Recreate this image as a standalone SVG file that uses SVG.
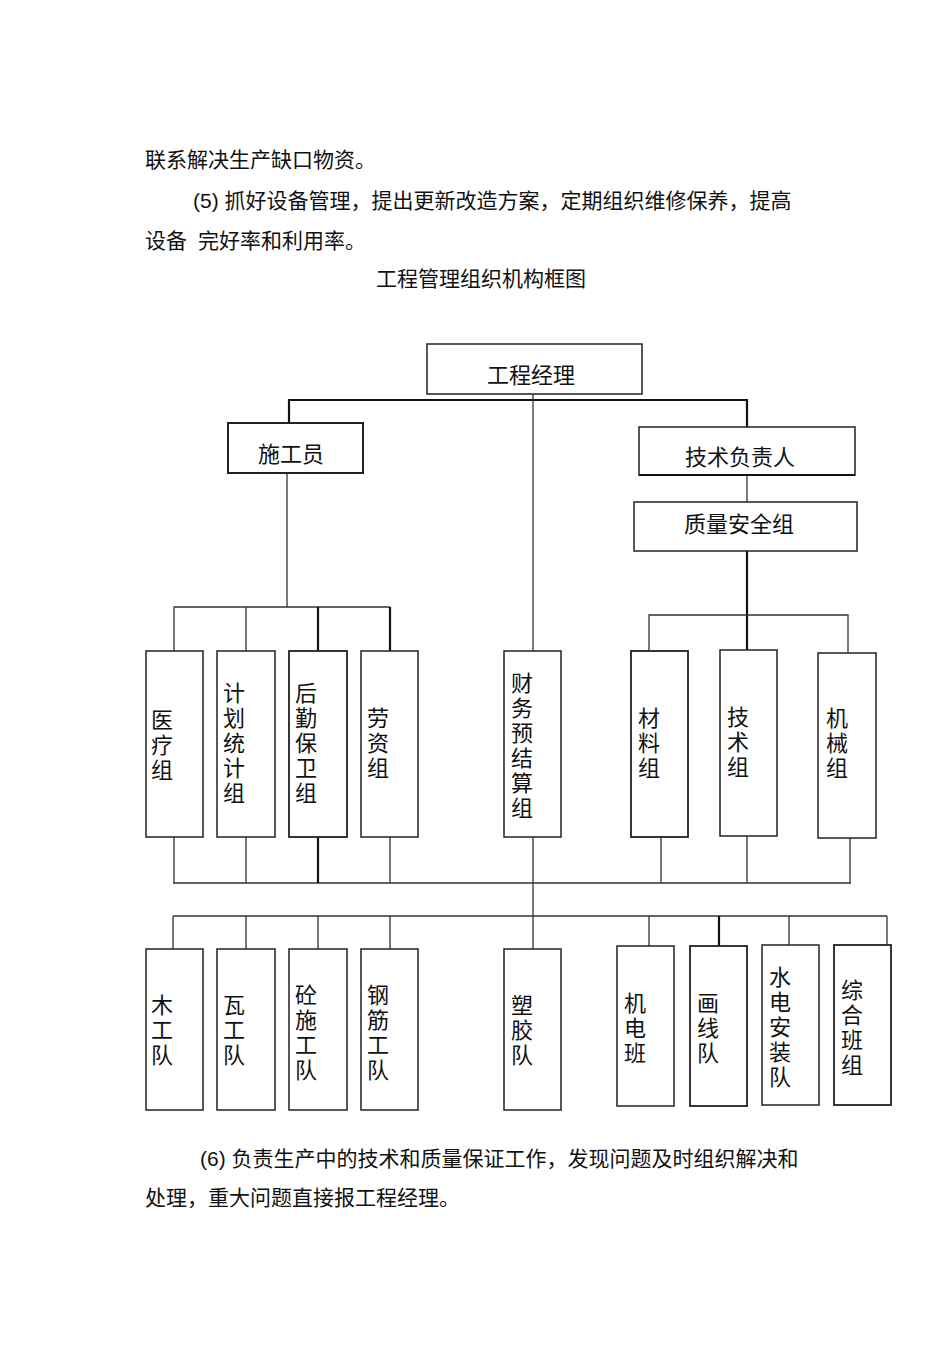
<svg xmlns="http://www.w3.org/2000/svg" width="950" height="1345" viewBox="0 0 950 1345">
<style>
text{font-family:"Liberation Sans","Noto Sans CJK SC",sans-serif;fill:#111}
.p{font-size:21px}
.b{fill:#fff;stroke:#222;stroke-width:1.5}
.l{font-size:22px;text-anchor:middle}
.c{stroke:#333;stroke-width:1.3;fill:none}
.t{stroke:#111;stroke-width:2.2;fill:none}
</style>
<rect width="950" height="1345" fill="#fff"/>
<text class="p" x="145" y="167">联系解决生产缺口物资。</text>
<text class="p" x="193" y="208">(5) 抓好设备管理，提出更新改造方案，定期组织维修保养，提高</text>
<text class="p" x="145" y="248">设备</text>
<text class="p" x="198" y="248">完好率和利用率。</text>
<text class="p" x="481" y="286" text-anchor="middle">工程管理组织机构框图</text>
<text class="p" x="200" y="1166">(6) 负责生产中的技术和质量保证工作，发现问题及时组织解决和</text>
<text class="p" x="145" y="1205">处理，重大问题直接报工程经理。</text>
<g id="connectors">
<path class="t" d="M289 423V400H747V427"/>
<path class="c" d="M533 394V651"/>
<path class="c" d="M287 473V607M174 651V607H390M246 607V651"/>
<path class="t" d="M318 607V651M390 607V651"/>
<path class="c" d="M747 475V502"/>
<path class="t" d="M747 551V650"/>
<path class="c" d="M649 651V615H848V653"/>
<path class="c" d="M173 883H851M174 837V883M246 837V883M390 837V883M533 837V916M661 837V883M747 836V883M850 838V883"/>
<path class="t" d="M318 837V883"/>
<path class="c" d="M173 916H887M173 916V949M246 916V949M318 916V949M390 916V949M533 916V949M649 916V946M789 916V945M887 916V945"/>
<path class="t" d="M719 916V946"/>
</g>
<g id="n-top"><rect class="b" x="427" y="344" width="215" height="50"/><text class="l" x="531" y="383">工程经理</text></g>
<g id="n-sgy"><rect class="b" x="228" y="423" width="135" height="50" style="stroke-width:2"/><text class="l" x="291" y="462">施工员</text></g>
<g id="n-jsfzr"><rect class="b" x="639" y="427" width="216" height="48"/><path class="t" d="M639 475H855"/><text class="l" x="740" y="465">技术负责人</text></g>
<g id="n-zlaq"><rect class="b" x="634" y="502" width="223" height="49"/><text class="l" x="739" y="532">质量安全组</text></g>
<g id="n-yl"><rect class="b" x="146" y="651" width="57" height="186"/><text class="l" x="162"><tspan x="162" y="728">医</tspan><tspan x="162" y="753">疗</tspan><tspan x="162" y="778">组</tspan></text></g>
<g id="n-jh"><rect class="b" x="217" y="651" width="58" height="186"/><text class="l" x="234"><tspan x="234" y="701">计</tspan><tspan x="234" y="726">划</tspan><tspan x="234" y="751">统</tspan><tspan x="234" y="776">计</tspan><tspan x="234" y="801">组</tspan></text></g>
<g id="n-hq"><rect class="b" x="289" y="651" width="58" height="186" style="stroke-width:1.8"/><text class="l" x="306"><tspan x="306" y="701">后</tspan><tspan x="306" y="726">勤</tspan><tspan x="306" y="751">保</tspan><tspan x="306" y="776">卫</tspan><tspan x="306" y="801">组</tspan></text></g>
<g id="n-lz"><rect class="b" x="361" y="651" width="57" height="186"/><text class="l" x="378"><tspan x="378" y="726">劳</tspan><tspan x="378" y="751">资</tspan><tspan x="378" y="776">组</tspan></text></g>
<g id="n-cw"><rect class="b" x="504" y="651" width="57" height="186"/><text class="l" x="522"><tspan x="522" y="691">财</tspan><tspan x="522" y="716">务</tspan><tspan x="522" y="741">预</tspan><tspan x="522" y="766">结</tspan><tspan x="522" y="791">算</tspan><tspan x="522" y="816">组</tspan></text></g>
<g id="n-cl"><rect class="b" x="631" y="651" width="57" height="186" style="stroke-width:1.8"/><text class="l" x="649"><tspan x="649" y="726">材</tspan><tspan x="649" y="751">料</tspan><tspan x="649" y="776">组</tspan></text></g>
<g id="n-js"><rect class="b" x="720" y="650" width="57" height="186"/><text class="l" x="738"><tspan x="738" y="725">技</tspan><tspan x="738" y="750">术</tspan><tspan x="738" y="775">组</tspan></text></g>
<g id="n-jx"><rect class="b" x="818" y="653" width="58" height="185"/><text class="l" x="837"><tspan x="837" y="726">机</tspan><tspan x="837" y="751">械</tspan><tspan x="837" y="776">组</tspan></text></g>
<g id="n-mg"><rect class="b" x="146" y="949" width="57" height="161"/><text class="l" x="162"><tspan x="162" y="1013">木</tspan><tspan x="162" y="1038">工</tspan><tspan x="162" y="1063">队</tspan></text></g>
<g id="n-wg"><rect class="b" x="217" y="949" width="58" height="161"/><text class="l" x="234"><tspan x="234" y="1013">瓦</tspan><tspan x="234" y="1038">工</tspan><tspan x="234" y="1063">队</tspan></text></g>
<g id="n-tsg"><rect class="b" x="289" y="949" width="58" height="161"/><text class="l" x="306"><tspan x="306" y="1003">砼</tspan><tspan x="306" y="1028">施</tspan><tspan x="306" y="1053">工</tspan><tspan x="306" y="1078">队</tspan></text></g>
<g id="n-gj"><rect class="b" x="361" y="949" width="57" height="161"/><text class="l" x="378"><tspan x="378" y="1003">钢</tspan><tspan x="378" y="1028">筋</tspan><tspan x="378" y="1053">工</tspan><tspan x="378" y="1078">队</tspan></text></g>
<g id="n-sj"><rect class="b" x="504" y="949" width="57" height="161"/><text class="l" x="522"><tspan x="522" y="1013">塑</tspan><tspan x="522" y="1038">胶</tspan><tspan x="522" y="1063">队</tspan></text></g>
<g id="n-jd"><rect class="b" x="617" y="946" width="57" height="160"/><text class="l" x="635"><tspan x="635" y="1011">机</tspan><tspan x="635" y="1036">电</tspan><tspan x="635" y="1061">班</tspan></text></g>
<g id="n-hx"><rect class="b" x="690" y="946" width="57" height="160" style="stroke-width:1.8"/><text class="l" x="708"><tspan x="708" y="1011">画</tspan><tspan x="708" y="1036">线</tspan><tspan x="708" y="1061">队</tspan></text></g>
<g id="n-sd"><rect class="b" x="762" y="945" width="57" height="160"/><text class="l" x="780"><tspan x="780" y="985">水</tspan><tspan x="780" y="1010">电</tspan><tspan x="780" y="1035">安</tspan><tspan x="780" y="1060">装</tspan><tspan x="780" y="1085">队</tspan></text></g>
<g id="n-zh"><rect class="b" x="834" y="945" width="57" height="160" style="stroke-width:1.8"/><text class="l" x="852"><tspan x="852" y="998">综</tspan><tspan x="852" y="1023">合</tspan><tspan x="852" y="1048">班</tspan><tspan x="852" y="1073">组</tspan></text></g>
</svg>
